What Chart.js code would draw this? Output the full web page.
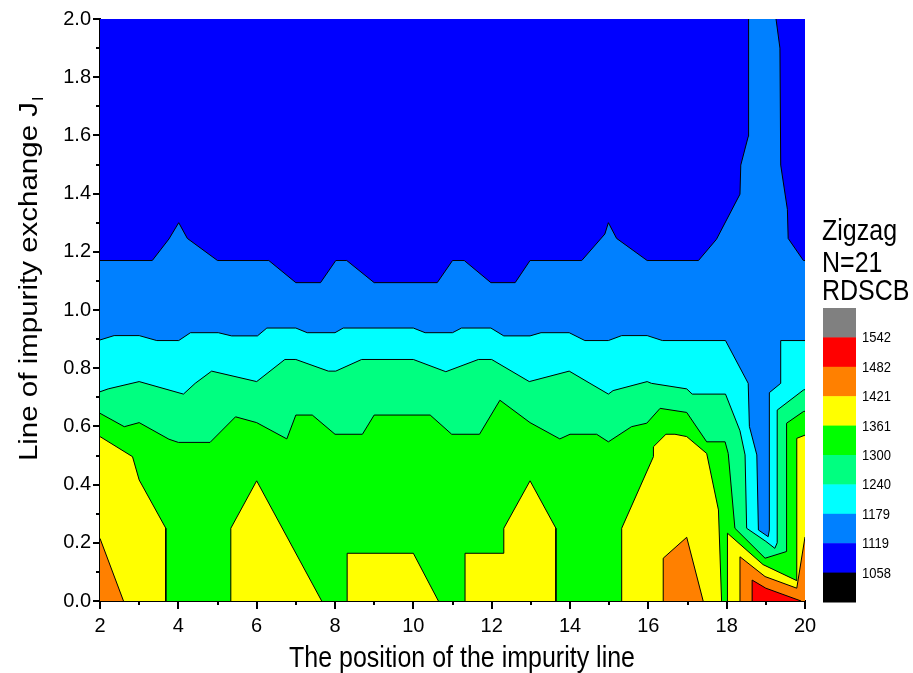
<!DOCTYPE html>
<html>
<head>
<meta charset="utf-8">
<script src="https://cdn.jsdelivr.net/npm/chart.js@4.4.0/dist/chart.umd.min.js"></script>
<style>
  html, body { margin: 0; padding: 0; background: #ffffff; }
  #wrap { position: relative; width: 913px; height: 673px; }
</style>
</head>
<body>
<div id="wrap"><canvas id="chart"></canvas></div>
<script>
// Contour levels of the map and the colour of each band (lowest band first).
// bandColors[i] fills the values between levels[i-1] and levels[i].
const levels = [1058, 1119, 1179, 1240, 1300, 1361, 1421, 1482, 1542];
const bandColors = ['#000000', '#0000ff', '#0080ff', '#00ffff', '#00ff80',
                    '#00ff00', '#ffff00', '#ff8000', '#ff0000', '#808080'];
const legendTitle = ['Zigzag', 'N=21', 'RDSCB'];

const xTickValues = [2, 4, 6, 8, 10, 12, 14, 16, 18, 20];
const yTickValues = [0.0, 0.2, 0.4, 0.6, 0.8, 1.0, 1.2, 1.4, 1.6, 1.8, 2.0];

// Regions where the value is at or above a level, as [x, y] outlines.
// Edges that run along the frame are pushed just outside the plotted range.
const domain = [[1.9, -0.1], [1.9, 2.1], [20.1, 2.1], [20.1, -0.1]];

const above1119 = [[1.9, -0.1], [1.9, 1.17], [2, 1.17], [3.335, 1.17], [3.76, 1.244], [4.01, 1.30],
  [4.23, 1.246], [5.0, 1.17], [6.31, 1.17], [7.0, 1.094], [7.63, 1.094], [8.02, 1.17], [8.30, 1.17],
  [9.0, 1.094], [10.61, 1.094], [11.0, 1.17], [11.30, 1.17], [11.98, 1.094], [12.6, 1.094],
  [12.98, 1.17], [14.30, 1.17], [14.89, 1.261], [14.98, 1.30], [15.19, 1.246], [15.97, 1.17],
  [17.28, 1.17], [17.74, 1.243], [18.34, 1.398], [18.36, 1.498], [18.55, 1.596], [18.56, 2.0],
  [18.56, 2.1], [19.26, 2.1], [19.26, 2.0], [19.36, 1.90], [19.38, 1.498], [19.55, 1.346],
  [19.57, 1.246], [19.96, 1.17], [20.1, 1.17], [20.1, -0.1]];

const above1179 = [[1.9, -0.1], [1.9, 0.897], [2, 0.897], [2.36, 0.912], [3.0, 0.912], [3.45, 0.895],
  [4.01, 0.895], [4.31, 0.922], [5.02, 0.922], [5.36, 0.911], [6.02, 0.911], [6.26, 0.938],
  [7.0, 0.938], [7.29, 0.922], [8.0, 0.922], [8.21, 0.938], [10.0, 0.938], [10.30, 0.922],
  [11.0, 0.922], [11.23, 0.938], [11.98, 0.938], [12.31, 0.911], [12.98, 0.911], [13.26, 0.922],
  [13.98, 0.922], [14.38, 0.895], [14.98, 0.895], [15.32, 0.912], [15.97, 0.912], [16.36, 0.895],
  [17.97, 0.895], [18.55, 0.748], [18.58, 0.60], [18.77, 0.502], [18.81, 0.244], [19.06, 0.221],
  [19.09, 0.244], [19.09, 0.716], [19.38, 0.748], [19.38, 0.895], [20.1, 0.895], [20.1, -0.1]];

const above1240 = [[1.9, -0.1], [1.9, 0.719], [2, 0.719], [2.21, 0.729], [3.0, 0.754], [4.13, 0.711],
  [4.43, 0.748], [4.85, 0.790], [6.0, 0.754], [6.72, 0.830], [7.0, 0.830], [7.83, 0.790],
  [8.02, 0.79], [8.68, 0.830], [10.0, 0.830], [10.83, 0.788], [11.66, 0.830], [12.0, 0.830],
  [12.96, 0.754], [13.98, 0.79], [14.51, 0.748], [14.98, 0.711], [15.1, 0.723], [15.97, 0.754],
  [16.08, 0.748], [16.98, 0.729], [17.12, 0.711], [17.97, 0.711], [18.34, 0.585], [18.47, 0.502],
  [18.51, 0.25], [19.0, 0.205], [19.23, 0.181], [19.29, 0.2], [19.29, 0.656], [19.96, 0.725],
  [20.1, 0.73], [20.1, -0.1]];

const above1300 = [[1.9, -0.1], [1.9, 0.645], [2, 0.645], [2.62, 0.599], [3.0, 0.613], [3.76, 0.556],
  [4.0, 0.545], [4.81, 0.545], [5.46, 0.633], [6.0, 0.613], [6.77, 0.557], [7.0, 0.639],
  [7.42, 0.639], [8.0, 0.573], [8.70, 0.573], [9.0, 0.639], [10.43, 0.639], [10.98, 0.573],
  [11.69, 0.573], [12.21, 0.69], [12.98, 0.613], [13.74, 0.557], [14.0, 0.573], [14.68, 0.573],
  [14.98, 0.547], [15.57, 0.599], [15.96, 0.611], [16.30, 0.662], [16.98, 0.648], [17.49, 0.547],
  [17.96, 0.547], [18.04, 0.507], [18.21, 0.25], [18.98, 0.147], [19.53, 0.17], [19.53, 0.611],
  [19.96, 0.651], [20.1, 0.655], [20.1, -0.1]];

const above1361 = [
  [[1.9, -0.1], [1.9, 0.565], [2, 0.565], [2.83, 0.496], [3.0, 0.416], [3.68, 0.25], [3.68, -0.1]],
  [[5.34, -0.1], [5.34, 0.25], [6.0, 0.413], [7.66, 0], [7.66, -0.1]],
  [[8.31, -0.1], [8.31, 0.164], [10.0, 0.164], [10.64, 0], [10.64, -0.1]],
  [[11.32, -0.1], [11.32, 0.164], [12.31, 0.164], [12.31, 0.25], [12.98, 0.413], [13.64, 0.25], [13.64, -0.1]],
  [[15.32, -0.1], [15.32, 0.25], [16.13, 0.496], [16.13, 0.53], [16.45, 0.573], [16.68, 0.573],
   [16.98, 0.565], [17.49, 0.507], [17.79, 0.313], [17.87, 0], [17.87, -0.1]],
  [[18.02, -0.1], [18.02, 0.233], [18.93, 0.125], [19.79, 0.07], [19.79, 0.559], [20, 0.57],
   [20.1, 0.57], [20.1, -0.1]]
];

const above1421 = [
  [[1.9, -0.1], [1.9, 0.215], [2, 0.215], [2.6, 0], [2.6, -0.1]],
  [[16.38, -0.1], [16.38, 0.147], [16.98, 0.219], [17.40, 0], [17.40, -0.1]],
  [[18.34, -0.1], [18.34, 0.152], [18.98, 0.084], [19.79, 0.044], [20, 0.22], [20.1, 0.22], [20.1, -0.1]]
];

const above1482 = [
  [[18.65, -0.1], [18.65, 0.072], [19.0, 0.044], [19.9, 0.0], [19.9, -0.1]]
];

// Stack of filled regions, bottom layer first, with the band colour each one starts.
const layers = [
  { outline: domain, color: bandColors[1], line: false },
  { outline: above1119, color: bandColors[2], line: true },
  { outline: above1179, color: bandColors[3], line: true },
  { outline: above1240, color: bandColors[4], line: true },
  { outline: above1300, color: bandColors[5], line: true },
  ...above1361.map(o => ({ outline: o, color: bandColors[6], line: true })),
  ...above1421.map(o => ({ outline: o, color: bandColors[7], line: true })),
  ...above1482.map(o => ({ outline: o, color: bandColors[8], line: true }))
];

const FONT = "'Liberation Sans', Arial, sans-serif";

const datasets = layers.map((layer, i) => ({
  data: layer.outline.map(([x, y]) => ({ x, y })),
  showLine: true,
  fill: 'shape',
  backgroundColor: layer.color,
  borderColor: '#000000',
  borderWidth: layer.line ? 1 : 0,
  pointRadius: 0,
  pointHoverRadius: 0,
  tension: 0,
  clip: 0,
  order: layers.length - i
}));

// Text stretched vertically, drawn in the current context
function stretchedText(ctx, text, x, y, size, align, sy) {
  ctx.save();
  ctx.translate(x, y);
  ctx.scale(1, sy);
  ctx.font = size + 'px ' + FONT;
  ctx.textAlign = align;
  ctx.textBaseline = 'alphabetic';
  ctx.fillText(text, 0, 0);
  ctx.restore();
}

const frameAndLegend = {
  id: 'frameAndLegend',
  afterDraw(chart) {
    const { ctx, chartArea: a, scales } = chart;
    const xs = scales.x, ys = scales.y;
    ctx.save();
    ctx.strokeStyle = '#000000';
    ctx.fillStyle = '#000000';
    ctx.lineWidth = 2;

    // outward tick marks, long on labelled values, short in between
    for (let v = 2; v <= 20; v += 1) {
      const px = Math.round(xs.getPixelForValue(v));
      const len = (v % 2 === 0) ? 8 : 4;
      ctx.beginPath();
      ctx.moveTo(px, a.bottom);
      ctx.lineTo(px, a.bottom + len);
      ctx.stroke();
    }
    for (let k = 0; k <= 20; k += 1) {
      const py = Math.round(ys.getPixelForValue(k / 10));
      const len = (k % 2 === 0) ? 7 : 4;
      ctx.beginPath();
      ctx.moveTo(a.left, py);
      ctx.lineTo(a.left - len, py);
      ctx.stroke();
    }

    // axis titles
    stretchedText(ctx, 'The position of the impurity line', 462, 667, 25, 'center', 1.18);

    ctx.save();
    ctx.translate(37, 278);
    ctx.rotate(-Math.PI / 2);
    ctx.scale(1.18, 1);
    ctx.font = '25px ' + FONT;
    ctx.textBaseline = 'alphabetic';
    const main = 'Line of impurity exchange J';
    const w = ctx.measureText(main).width;
    ctx.textAlign = 'left';
    ctx.fillText(main, -w / 2 - 3, 0);
    ctx.font = '15px ' + FONT;
    ctx.fillText('l', w / 2 - 2, 6);
    ctx.restore();

    // colour scale legend
    const lx = 822;
    stretchedText(ctx, legendTitle[0], lx, 240, 25, 'left', 1.18);
    stretchedText(ctx, legendTitle[1], lx, 272, 25, 'left', 1.18);
    stretchedText(ctx, legendTitle[2], lx, 300, 25, 'left', 1.18);

    const boxTop = 308, boxH = 29.4, boxX = 823, boxW = 33;
    const n = bandColors.length;
    for (let i = 0; i < n; i++) {
      ctx.fillStyle = bandColors[n - 1 - i];
      ctx.fillRect(boxX, boxTop + i * boxH, boxW, boxH + 0.5);
    }
    ctx.fillStyle = '#000000';
    for (let i = 0; i < levels.length; i++) {
      const yb = boxTop + (i + 1) * boxH;
      stretchedText(ctx, String(levels[levels.length - 1 - i]), 862, yb + 5, 13, 'left', 1.18);
    }
    ctx.restore();
  }
};

new Chart(document.getElementById('chart'), {
  type: 'scatter',
  data: { datasets },
  options: {
    responsive: true,
    maintainAspectRatio: false,
    animation: false,
    events: [],
    layout: { padding: { left: 0, right: 108, top: 19, bottom: 0 } },
    plugins: {
      legend: { display: false },
      tooltip: { enabled: false },
      title: { display: false }
    },
    scales: {
      x: {
        type: 'linear',
        min: 2,
        max: 20,
        afterBuildTicks: (scale) => { scale.ticks = xTickValues.map(v => ({ value: v })); },
        afterFit: (scale) => { scale.height = 72; },
        ticks: {
          color: '#000000',
          font: { size: 20, family: FONT },
          padding: 5,
          maxRotation: 0,
          callback: (v) => String(v)
        },
        grid: { drawOnChartArea: false, drawTicks: true, tickLength: 8, tickColor: 'rgba(0,0,0,0)' },
        border: { display: true, color: '#000000', width: 2 }
      },
      y: {
        type: 'linear',
        min: 0,
        max: 2,
        afterBuildTicks: (scale) => { scale.ticks = yTickValues.map(v => ({ value: v })); },
        afterFit: (scale) => { scale.width = 100; },
        ticks: {
          color: '#000000',
          font: { size: 20, family: FONT },
          padding: 2,
          callback: (v) => Number(v).toFixed(1)
        },
        grid: { drawOnChartArea: false, drawTicks: true, tickLength: 7, tickColor: 'rgba(0,0,0,0)' },
        border: { display: true, color: '#000000', width: 2 }
      }
    }
  },
  plugins: [frameAndLegend]
});
</script>
</body>
</html>
